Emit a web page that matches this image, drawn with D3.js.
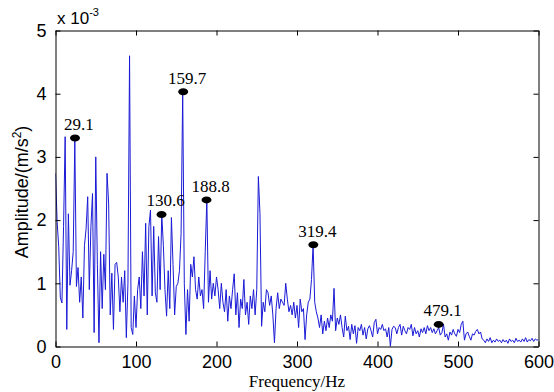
<!DOCTYPE html>
<html>
<head>
<meta charset="utf-8">
<script src="https://cdn.jsdelivr.net/npm/d3@7"></script>
<style>
  html, body { margin: 0; padding: 0; background: #fff; }
  svg { display: block; }
</style>
</head>
<body>
<svg id="chart" width="554" height="392"></svg>
<script>
// Frequency grid (Hz) and amplitude values (x 1e-3 m/s^2)
const freqStep = 2;
const amplitude = [
  2.74,1.98,1.58,0.77,0.69,1.9,3.32,0.27,2.1,0.97,
  1.2,1.5,3.26,0.95,1.25,0.7,1.1,0.45,1.6,1.86,
  2.37,0.9,1.9,2.42,0.22,3.0,1.3,0.06,1.5,0.6,
  1.46,0.9,2.74,2.27,0.5,1.16,0.27,1.3,1.33,1.1,
  0.55,1.1,0.7,1.2,0.14,1.0,4.6,0.3,0.19,0.8,
  0.3,0.9,1.1,0.6,1.5,0.8,1.95,0.5,1.9,2.16,
  0.8,1.9,0.85,0.7,1.74,0.9,2.09,1.6,0.9,0.48,
  1.2,0.6,2.04,1.3,0.5,0.95,1.0,1.2,1.79,4.03,
  1.0,0.19,0.9,0.4,1.3,1.1,1.42,0.9,0.75,1.1,
  0.8,0.9,0.6,1.5,2.32,0.7,1.2,0.75,1.0,0.8,
  1.1,0.9,0.6,1.0,0.7,0.55,0.9,0.4,0.8,0.6,
  0.9,1.15,0.5,0.85,0.3,0.75,0.6,1.06,0.5,0.7,
  0.35,0.8,0.6,0.9,0.5,0.9,2.69,2.1,0.32,0.7,
  0.55,0.9,0.85,0.65,0.8,0.5,0.06,0.6,0.85,0.6,
  0.75,0.7,0.65,1.0,0.75,0.55,0.65,0.5,0.7,0.45,
  0.65,0.3,0.75,0.55,0.6,0.11,0.5,0.7,0.75,1.06,
  1.61,0.7,0.55,0.45,0.3,0.5,0.2,0.4,0.25,0.45,
  0.3,0.5,0.4,0.92,0.25,0.45,0.35,0.5,0.3,0.15,
  0.48,0.25,0.32,0.11,0.35,0.2,0.33,0.05,0.3,0.25,
  0.35,0.18,0.3,0.12,0.28,0.33,0.25,0.15,0.38,0.43,
  0.2,0.3,0.27,0.35,0.25,0.28,0.15,0.3,0.0,0.27,
  0.32,0.3,0.2,0.3,0.35,0.18,0.32,0.25,0.2,0.3,
  0.27,0.35,0.17,0.3,0.2,0.25,0.15,0.28,0.22,0.3,
  0.2,0.33,0.25,0.3,0.22,0.28,0.2,0.25,0.3,0.18,
  0.22,0.35,0.15,0.2,0.1,0.23,0.18,0.27,0.2,0.16,
  0.27,0.22,0.35,0.4,0.1,0.2,0.23,0.16,0.1,0.2,
  0.18,0.24,0.27,0.2,0.23,0.12,0.1,0.06,0.12,0.08,
  0.14,0.06,0.1,0.07,0.12,0.08,0.1,0.06,0.11,0.07,
  0.1,0.05,0.12,0.08,0.1,0.06,0.13,0.08,0.1,0.07,
  0.12,0.08,0.14,0.07,0.11,0.09,0.13,0.08,0.12,0.1,
  0.11
];

// Marked peaks: position as drawn (Hz, amplitude) and label text
const peakFreq  = [24.2, 131.7, 158.6, 187.6, 320.3, 476.0];
const peakAmp   = [3.30, 2.09, 4.03, 2.32, 1.61, 0.35];
const peakLabel = ["29.1", "130.6", "159.7", "188.8", "319.4", "479.1"];

const xTicks = [0, 100, 200, 300, 400, 500, 600];
const yTicks = [0, 1, 2, 3, 4, 5];

const svg = d3.select("#chart");
const pL = 55.5, pR = 538.5, pT = 30.5, pB = 346.5;

const x = d3.scaleLinear().domain([0, 600]).range([pL, pR]);
const y = d3.scaleLinear().domain([0, 5]).range([pB, pT]);

const series = amplitude.map((a, i) => ({ f: i * freqStep, a }));

svg.append("clipPath").attr("id", "clip")
  .append("rect").attr("x", pL).attr("y", pT)
  .attr("width", pR - pL).attr("height", pB - pT);

svg.append("path")
  .datum(series)
  .attr("clip-path", "url(#clip)")
  .attr("fill", "none")
  .attr("stroke", "#1a1ad6")
  .attr("stroke-width", 1)
  .attr("d", d3.line().x(d => x(d.f)).y(d => y(d.a)));

const tickFont = "'Liberation Sans', Arial, sans-serif";
const axB = d3.axisBottom(x).tickValues(xTicks).tickFormat(d3.format("d"))
  .tickSizeInner(-5).tickSizeOuter(0).tickPadding(9);
const axT = d3.axisTop(x).tickValues(xTicks).tickSizeInner(-5).tickSizeOuter(0).tickFormat("");
const axL = d3.axisLeft(y).tickValues(yTicks).tickFormat(d3.format("d"))
  .tickSizeInner(-5).tickSizeOuter(0).tickPadding(9);
const axR = d3.axisRight(y).tickValues(yTicks).tickSizeInner(-5).tickSizeOuter(0).tickFormat("");

function styleAxis(g) {
  g.select(".domain").attr("stroke", "#000").attr("stroke-width", 1);
  g.selectAll(".tick line").attr("stroke", "#000");
  g.selectAll(".tick text").attr("fill", "#000")
    .style("font-family", tickFont).style("font-size", "18px");
}
svg.append("g").attr("transform", `translate(0,${pB})`).call(axB).call(styleAxis);
svg.append("g").attr("transform", `translate(0,${pT})`).call(axT).call(styleAxis);
svg.append("g").attr("transform", `translate(${pL},0)`).call(axL).call(styleAxis);
svg.append("g").attr("transform", `translate(${pR},0)`).call(axR).call(styleAxis);

const expo = svg.append("text")
  .attr("x", 57).attr("y", 24)
  .style("font-family", tickFont).style("font-size", "17px").attr("fill", "#000");
expo.append("tspan").text("x 10");
expo.append("tspan").attr("dy", -8).style("font-size", "11px").text("-3");

const serif = "'Liberation Serif', 'Times New Roman', serif";
peakFreq.forEach((f, i) => {
  svg.append("ellipse")
    .attr("cx", x(f)).attr("cy", y(peakAmp[i]))
    .attr("rx", 5).attr("ry", 3.5).attr("fill", "#000");
  svg.append("text")
    .attr("x", x(f) + 4).attr("y", y(peakAmp[i]) - 8)
    .attr("text-anchor", "middle")
    .style("font-family", serif).style("font-size", "17px")
    .attr("fill", "#000").text(peakLabel[i]);
});

svg.append("text")
  .attr("x", 297).attr("y", 387)
  .attr("text-anchor", "middle")
  .style("font-family", serif).style("font-size", "17px")
  .attr("fill", "#000").text("Frequency/Hz");

const yl = svg.append("text")
  .attr("transform", "translate(28,192) rotate(-90)")
  .attr("text-anchor", "middle")
  .style("font-family", tickFont).style("font-size", "18px")
  .attr("fill", "#000");
yl.append("tspan").text("Amplitude/(m/s");
yl.append("tspan").attr("dy", -7).style("font-size", "12px").text("2");
yl.append("tspan").attr("dy", 7).text(")");
</script>
</body>
</html>
